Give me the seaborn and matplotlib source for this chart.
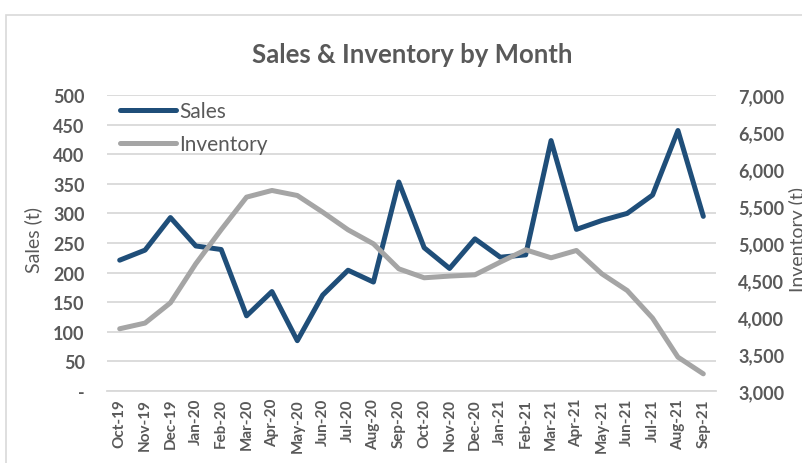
import matplotlib
matplotlib.use("Agg")
import matplotlib.pyplot as plt
import matplotlib.ticker as mticker
from matplotlib.patches import Rectangle
import seaborn as sns
import pandas as pd

# ==============================
# data
# ==============================
months = ["Oct-19", "Nov-19", "Dec-19", "Jan-20", "Feb-20", "Mar-20", "Apr-20", "May-20",
          "Jun-20", "Jul-20", "Aug-20", "Sep-20", "Oct-20", "Nov-20", "Dec-20", "Jan-21",
          "Feb-21", "Mar-21", "Apr-21", "May-21", "Jun-21", "Jul-21", "Aug-21", "Sep-21"]
sales = [221, 238, 293, 245, 239, 127, 168, 85, 162, 204, 184, 353,
         242, 207, 257, 226, 230, 423, 273, 288, 300, 331, 440, 295]
inventory = [3841, 3918, 4192, 4720, 5180, 5620, 5710, 5642, 5417, 5178, 4989, 4651,
             4530, 4553, 4570, 4742, 4908, 4800, 4899, 4584, 4358, 3985, 3458, 3232]

df = pd.DataFrame({"Month": months, "Sales": sales, "Inventory": inventory})

# ==============================
# style
# ==============================
sns.set_theme(style="white")
plt.rcParams["font.family"] = ["Lato", "DejaVu Sans"]
txt = "#595959"
blue = "#1F4E79"
grey = "#A5A5A5"
grid = "#D9D9D9"

W, H = 803, 464
fig = plt.figure(figsize=(W / 100, H / 100), dpi=100)
ax = fig.add_axes([107 / W, 1 - 392 / H, (716 - 107) / W, (392 - 96) / H])
ax2 = ax.twinx()

# chart border (cut off on the right like the screenshot)
fig.patches.append(Rectangle((6 / W, -0.1), 2, 1.1 - 16 / H, transform=fig.transFigure,
                             fill=False, edgecolor=grid, linewidth=1.2))

sns.lineplot(data=df, x="Month", y="Sales", ax=ax, color=blue, linewidth=3.6,
             sort=False, label="Sales", legend=False)
sns.lineplot(data=df, x="Month", y="Inventory", ax=ax2, color=grey, linewidth=3.6,
             sort=False, label="Inventory", legend=False)

ax.set_xlim(-0.5, len(months) - 0.5)
ax.set_ylim(0, 500)
ax2.set_ylim(3000, 7000)
ax.yaxis.set_major_locator(mticker.MultipleLocator(50))
ax2.yaxis.set_major_locator(mticker.MultipleLocator(500))
ax.yaxis.set_major_formatter(mticker.FuncFormatter(lambda v, p: "-" if v == 0 else f"{int(v)}"))
ax2.yaxis.set_major_formatter(mticker.FuncFormatter(lambda v, p: f"{int(v):,}"))

ax.grid(axis="y", color=grid, linewidth=1.3)
ax.grid(axis="x", visible=False)
ax2.grid(False)
ax.set_axisbelow(True)

for a in (ax, ax2):
    for s in a.spines.values():
        s.set_visible(False)
    a.tick_params(length=0)
ax.spines["bottom"].set_visible(True)
ax.spines["bottom"].set_color(grid)
ax.spines["bottom"].set_linewidth(1.3)

ax.set_xticks(range(len(months)))
ax.set_xticklabels(months, rotation=90, fontsize=11, fontweight="bold", color=txt)
ax.tick_params(axis="x", pad=5)
for lab in ax.get_yticklabels():
    lab.set_fontsize(13)
    lab.set_fontweight("bold")
    lab.set_color(txt)
ax.tick_params(axis="y", pad=16)
for lab in ax2.get_yticklabels():
    lab.set_fontsize(13)
    lab.set_fontweight("bold")
    lab.set_color(txt)
ax2.tick_params(axis="y", pad=16)

ax.set_xlabel("")
ax.set_ylabel("")
ax2.set_ylabel("")
fig.text(33 / W, 1 - 240 / H, "Sales (t)", rotation=90, ha="center", va="center",
         fontsize=14, color=txt)
fig.text(789 / W, 1 - 240 / H, "Inventory (t)", rotation=90, ha="left", va="center",
         fontsize=14, color=txt)
fig.text(412 / W, 1 - 55 / H, "Sales & Inventory by Month", ha="center", va="center",
         fontsize=18.5, fontweight="bold", color=txt)

# legend
h1, l1 = ax.get_legend_handles_labels()
h2, l2 = ax2.get_legend_handles_labels()
leg = ax2.legend(h1 + h2, l1 + l2, loc="upper left", bbox_to_anchor=(13 / 609, 0.98),
                 frameon=False, fontsize=15, handlelength=2.7, handletextpad=0.15,
                 labelspacing=0.62, borderpad=0, borderaxespad=0)
for t in leg.get_texts():
    t.set_color(txt)

fig.savefig("out.png", dpi=100, facecolor="white")
